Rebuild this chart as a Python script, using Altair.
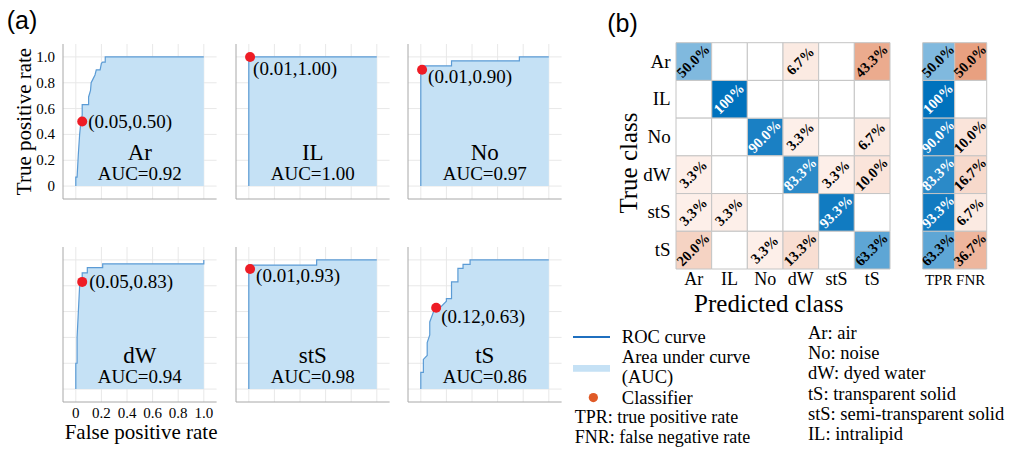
import altair as alt
import pandas as pd

# ---------------- data ----------------
CLASSES = ["Ar", "IL", "No", "dW", "stS", "tS"]
AUC = [0.92, 1.00, 0.97, 0.94, 0.98, 0.86]
CLF_FPR = [0.05, 0.01, 0.01, 0.05, 0.01, 0.12]
CLF_TPR = [0.50, 1.00, 0.90, 0.83, 0.93, 0.63]

AR_FPR = [0, 0, 0.01, 0.02, 0.03, 0.04, 0.05, 0.05, 0.10, 0.10, 0.115, 0.12, 0.135, 0.15, 0.16, 0.19, 0.20, 0.21, 0.23, 0.23, 1.0]
AR_TPR = [0, 0.07, 0.07, 0.25, 0.40, 0.50, 0.55, 0.63, 0.63, 0.69, 0.74, 0.80, 0.83, 0.86, 0.90, 0.90, 0.95, 0.96, 0.96, 1.0, 1.0]
IL_FPR = [0, 0, 1.0]
IL_TPR = [0, 1.0, 1.0]
NO_FPR = [0, 0, 0.24, 0.24, 0.77, 0.77, 1.0]
NO_TPR = [0, 0.93, 0.93, 0.97, 0.97, 1.0, 1.0]
DW_FPR = [0, 0, 0.01, 0.01, 0.02, 0.03, 0.05, 0.05, 0.09, 0.09, 0.21, 0.21, 1.0, 1.0]
DW_TPR = [0, 0.20, 0.20, 0.40, 0.60, 0.80, 0.85, 0.90, 0.90, 0.94, 0.94, 0.97, 0.97, 1.0]
STS_FPR = [0, 0, 0.53, 0.53, 1.0]
STS_TPR = [0, 0.96, 0.96, 1.0, 1.0]
TS_FPR = [0, 0, 0.02, 0.02, 0.05, 0.05, 0.07, 0.07, 0.10, 0.12, 0.16, 0.20, 0.20, 0.24, 0.24, 0.29, 0.29, 0.33, 0.33, 0.385, 0.385, 1.0]
TS_TPR = [0, 0.13, 0.13, 0.23, 0.26, 0.36, 0.42, 0.52, 0.60, 0.64, 0.64, 0.68, 0.70, 0.70, 0.83, 0.83, 0.935, 0.935, 0.966, 0.966, 1.0, 1.0]

GRID_TICKS = [0, 0.2, 0.4, 0.6, 0.8, 1.0]
TICK_LABELS = ["0", "0.2", "0.4", "0.6", "0.8", "1.0"]

CONF = [
    [50.0, 0, 0, 6.7, 0, 43.3],
    [0, 100.0, 0, 0, 0, 0],
    [0, 0, 90.0, 3.3, 0, 6.7],
    [3.3, 0, 0, 83.3, 3.3, 10.0],
    [3.3, 3.3, 0, 0, 93.3, 0],
    [20.0, 0, 3.3, 13.3, 0, 63.3],
]
TPR = [50.0, 100.0, 90.0, 83.3, 93.3, 63.3]
FNR = [50.0, 0, 10.0, 16.7, 6.7, 36.7]
RATE_LABELS = ["TPR", "FNR"]

LEGEND_SYMBOL_TEXT = ["ROC curve", "Area under curve", "(AUC)", "Classifier"]
LEGEND_NOTES = ["TPR: true positive rate", "FNR: false negative rate"]
LEGEND_ABBR = ["Ar:  air", "No: noise", "dW: dyed water", "tS:  transparent solid",
               "stS: semi-transparent solid", "IL: intralipid"]

# ---------------- layout / style ----------------
SERIF = "Liberation Serif"
SANS = "Liberation Sans"
PANEL_X = [63, 236, 408]
PANEL_Y = [199, 402]
PW, PH = 153.6, 155
LABEL_OFF = [(6, 0), (3, 12), (6, 7), (7, 0), (6, 7), (5, 9)]
BLUE_DOMAIN = [0, 100]
BLUE_RANGE = ["#ffffff", "#0072bd"]
ORANGE_DOMAIN = [0, 3, 45, 100]
ORANGE_RANGE = ["#ffffff", "#fdf0ea", "#eaa88a", "#d95319"]

CURVES = [(AR_FPR, AR_TPR), (IL_FPR, IL_TPR), (NO_FPR, NO_TPR),
          (DW_FPR, DW_TPR), (STS_FPR, STS_TPR), (TS_FPR, TS_TPR)]


def panel(k):
    col, row = k % 3, k // 3
    xs = alt.Scale(domain=[-0.1, 1.1], range=[PANEL_X[col], PANEL_X[col] + PW], nice=False, zero=False)
    ys = alt.Scale(domain=[-0.1, 1.1], range=[PANEL_Y[row], PANEL_Y[row] - PH], nice=False, zero=False)

    g = pd.DataFrame([{"x": t, "x2": t, "y": -0.1, "y2": 1.1} for t in GRID_TICKS] +
                     [{"x": -0.1, "x2": 1.1, "y": t, "y2": t} for t in GRID_TICKS])
    grid = alt.Chart(g).mark_rule(color="#e8e8e8", strokeWidth=1).encode(
        x=alt.X("x:Q", scale=xs, axis=None), x2="x2:Q",
        y=alt.Y("y:Q", scale=ys, axis=None), y2="y2:Q")
    a = pd.DataFrame([{"x": -0.1, "x2": -0.1, "y": -0.1, "y2": 1.1},
                      {"x": -0.1, "x2": 1.1, "y": -0.1, "y2": -0.1}])
    axes = alt.Chart(a).mark_rule(color="#a8a8a8", strokeWidth=1).encode(
        x=alt.X("x:Q", scale=xs, axis=None), x2="x2:Q",
        y=alt.Y("y:Q", scale=ys, axis=None), y2="y2:Q")

    fpr, tpr = CURVES[k]
    df = pd.DataFrame({"fpr": fpr, "tpr": tpr, "i": list(range(len(fpr))), "base": 0.0})
    area = alt.Chart(df).mark_area(fill="#c5e1f5", fillOpacity=1, opacity=1).encode(
        x=alt.X("fpr:Q", scale=xs, axis=None), y=alt.Y("tpr:Q", scale=ys, axis=None, stack=None),
        y2="base:Q")
    line = alt.Chart(df).mark_line(color="#5b9bd5", strokeWidth=1.2).encode(
        x=alt.X("fpr:Q", scale=xs, axis=None), y=alt.Y("tpr:Q", scale=ys, axis=None), order="i:Q")

    pt = pd.DataFrame({"fpr": [CLF_FPR[k]], "tpr": [CLF_TPR[k]],
                       "lab": [f"({CLF_FPR[k]:.2f},{CLF_TPR[k]:.2f})"]})
    dot = alt.Chart(pt).mark_circle(size=100, color="#ee1c25", opacity=1).encode(
        x=alt.X("fpr:Q", scale=xs, axis=None), y=alt.Y("tpr:Q", scale=ys, axis=None))
    dx, dy = LABEL_OFF[k]
    dlab = alt.Chart(pt).mark_text(align="left", baseline="middle", dx=dx, dy=dy,
                                   font=SERIF, fontSize=19, color="black").encode(
        x=alt.X("fpr:Q", scale=xs, axis=None), y=alt.Y("tpr:Q", scale=ys, axis=None), text="lab:N")

    nm = pd.DataFrame({"t": [CLASSES[k]], "a": [f"AUC={AUC[k]:.2f}"]})
    name = alt.Chart(nm).mark_text(baseline="middle", font=SERIF, fontSize=23, color="black").encode(
        x=alt.XDatum(0.5, scale=xs, axis=None), y=alt.YDatum(0.26, scale=ys, axis=None), text="t:N")
    auc = alt.Chart(nm).mark_text(baseline="middle", font=SERIF, fontSize=19, color="black").encode(
        x=alt.XDatum(0.5, scale=xs, axis=None), y=alt.YDatum(0.09, scale=ys, axis=None), text="a:N")

    layers = [grid, axes, area, line, dot, dlab, name, auc]
    ticks = pd.DataFrame({"v": GRID_TICKS, "lab": TICK_LABELS})
    if col == 0 and row == 0:
        layers.append(alt.Chart(ticks).mark_text(align="right", baseline="middle", dx=-8,
                                                 font=SERIF, fontSize=15, color="black").encode(
            x=alt.XDatum(-0.1, scale=xs, axis=None), y=alt.Y("v:Q", scale=ys, axis=None), text="lab:N"))
        layers.append(alt.Chart(pd.DataFrame({"t": ["True positive rate"]})).mark_text(
            angle=270, baseline="middle", font=SERIF, fontSize=21, color="black").encode(
            x=alt.XDatum(-0.4, scale=xs, axis=None), y=alt.YDatum(0.5, scale=ys, axis=None), text="t:N"))
        layers.append(alt.Chart(pd.DataFrame({"t": ["(a)"]})).mark_text(
            align="left", baseline="middle", font=SANS, fontSize=25, color="black").encode(
            x=alt.XDatum(-0.54, scale=xs, axis=None), y=alt.YDatum(1.28, scale=ys, axis=None), text="t:N"))
    if col == 0 and row == 1:
        layers.append(alt.Chart(ticks).mark_text(baseline="middle", dy=11,
                                                 font=SERIF, fontSize=15, color="black").encode(
            x=alt.X("v:Q", scale=xs, axis=None), y=alt.YDatum(-0.1, scale=ys, axis=None), text="lab:N"))
        layers.append(alt.Chart(pd.DataFrame({"t": ["False positive rate"]})).mark_text(
            baseline="middle", font=SERIF, fontSize=21, color="black").encode(
            x=alt.XDatum(0.51, scale=xs, axis=None), y=alt.YDatum(-0.34, scale=ys, axis=None), text="t:N"))
    return alt.layer(*layers)


def fmt(v):
    return "100%" if v == 100 else f"{v:.1f}%"


# ---------------- confusion matrix ----------------
mxs = alt.Scale(domain=[0, 6], range=[676, 890], nice=False, zero=False)
mys = alt.Scale(domain=[0, 6], range=[42.7, 269], nice=False, zero=False)
rows = []
for r in range(6):
    for c in range(6):
        v = CONF[r][c]
        rows.append(dict(r=r, r2=r + 1, c=c, c2=c + 1, cx=c + 0.5, cy=r + 0.5, v=v,
                         kind="d" if r == c else "o", lab=fmt(v) if v > 0 else ""))
mdf = pd.DataFrame(rows)


def cell_layers(df, xs, ys):
    enc = dict(x=alt.X("c:Q", scale=xs, axis=None), x2="c2:Q",
               y=alt.Y("r:Q", scale=ys, axis=None), y2="r2:Q")
    d = alt.Chart(df).transform_filter("datum.kind == 'd'").mark_rect(
        stroke="#c4c4c4", strokeWidth=1).encode(
        color=alt.Color("v:Q", scale=alt.Scale(type="linear", domain=BLUE_DOMAIN, range=BLUE_RANGE,
                                               interpolate="rgb", zero=False, nice=False), legend=None), **enc)
    o = alt.Chart(df).transform_filter("datum.kind == 'o'").mark_rect(
        stroke="#c4c4c4", strokeWidth=1).encode(
        color=alt.Color("v:Q", scale=alt.Scale(type="linear", domain=ORANGE_DOMAIN, range=ORANGE_RANGE,
                                               interpolate="rgb", zero=False, nice=False), legend=None), **enc)
    t = alt.Chart(df).transform_filter("datum.v > 0").mark_text(
        angle=315, align="center", baseline="middle", font=SERIF, fontSize=14.5, fontWeight="bold").encode(
        x=alt.X("cx:Q", scale=xs, axis=None), y=alt.Y("cy:Q", scale=ys, axis=None), text="lab:N",
        color=alt.condition("datum.v > 75", alt.value("white"), alt.value("black")))
    return d, o, t


md, mo, mt = cell_layers(mdf, mxs, mys)

cls_df = pd.DataFrame({"cls": CLASSES, "i": list(range(6))})
row_labels = alt.Chart(cls_df).transform_calculate(cy="datum.i + 0.5").mark_text(
    align="right", baseline="middle", font=SERIF, fontSize=19, color="black").encode(
    x=alt.XDatum(-0.15, scale=mxs, axis=None), y=alt.Y("cy:Q", scale=mys, axis=None), text="cls:N")
col_labels = alt.Chart(cls_df).transform_calculate(cx="datum.i + 0.5").mark_text(
    baseline="middle", font=SERIF, fontSize=18, color="black").encode(
    x=alt.X("cx:Q", scale=mxs, axis=None), y=alt.YDatum(6.3, scale=mys, axis=None), text="cls:N")
pred_title = alt.Chart(pd.DataFrame({"t": ["Predicted class"]})).mark_text(
    baseline="middle", font=SERIF, fontSize=25, color="black").encode(
    x=alt.XDatum(2.6, scale=mxs, axis=None), y=alt.YDatum(6.93, scale=mys, axis=None), text="t:N")
true_title = alt.Chart(pd.DataFrame({"t": ["True class"]})).mark_text(
    angle=270, baseline="middle", font=SERIF, fontSize=25, color="black").encode(
    x=alt.XDatum(-1.32, scale=mxs, axis=None), y=alt.YDatum(3.19, scale=mys, axis=None), text="t:N")
b_label = alt.Chart(pd.DataFrame({"t": ["(b)"]})).mark_text(
    align="left", baseline="middle", font=SANS, fontSize=25, color="black").encode(
    x=alt.XDatum(-1.93, scale=mxs, axis=None), y=alt.YDatum(-0.5, scale=mys, axis=None), text="t:N")

matrix = alt.layer(md, mo, mt, row_labels, col_labels, pred_title, true_title, b_label).resolve_scale(
    color="independent")

# ---------------- TPR / FNR ----------------
sxs = alt.Scale(domain=[0, 2], range=[922.7, 986.7], nice=False, zero=False)
srows = []
for r in range(6):
    for c, v in enumerate([TPR[r], FNR[r]]):
        srows.append(dict(r=r, r2=r + 1, c=c, c2=c + 1, cx=c + 0.5, cy=r + 0.5, v=v,
                          kind="d" if c == 0 else "o", lab=fmt(v) if v > 0 else ""))
sdf = pd.DataFrame(srows)
sd, so, st = cell_layers(sdf, sxs, mys)
rate_labels = alt.Chart(pd.DataFrame({"t": RATE_LABELS, "i": [0, 1]})).transform_calculate(
    cx="datum.i + 0.5").mark_text(baseline="middle", font=SERIF, fontSize=15, color="black").encode(
    x=alt.X("cx:Q", scale=sxs, axis=None), y=alt.YDatum(6.3, scale=mys, axis=None), text="t:N")
side = alt.layer(sd, so, st, rate_labels).resolve_scale(color="independent")

# ---------------- legend ----------------
lxs = alt.Scale(domain=[0, 1], range=[573, 610], nice=False, zero=False)
lys = alt.Scale(domain=[0, 5], range=[337, 438], nice=False, zero=False)
one = pd.DataFrame({"k": [0]})
leg_line = alt.Chart(one).mark_rule(color="#1f6fbf", strokeWidth=2).encode(
    x=alt.XDatum(0, scale=lxs, axis=None), x2=alt.datum(1), y=alt.YDatum(0, scale=lys, axis=None))
leg_rect = alt.Chart(one).mark_rect(color="#c5e1f5").encode(
    x=alt.XDatum(0, scale=lxs, axis=None), x2=alt.datum(1),
    y=alt.YDatum(1.38, scale=lys, axis=None), y2=alt.datum(1.72))
leg_dot = alt.Chart(one).mark_circle(size=85, color="#e05a27", opacity=1).encode(
    x=alt.XDatum(0.55, scale=lxs, axis=None), y=alt.YDatum(3, scale=lys, axis=None))
sym_txt = alt.Chart(pd.DataFrame({"t": LEGEND_SYMBOL_TEXT, "row": [0, 1, 2, 3]})).mark_text(
    align="left", baseline="middle", font=SERIF, fontSize=18.5, color="black").encode(
    x=alt.XDatum(1.32, scale=lxs, axis=None), y=alt.Y("row:Q", scale=lys, axis=None), text="t:N")
note_txt = alt.Chart(pd.DataFrame({"t": LEGEND_NOTES, "row": [4, 5]})).mark_text(
    align="left", baseline="middle", font=SERIF, fontSize=18, color="black").encode(
    x=alt.XDatum(0.05, scale=lxs, axis=None), y=alt.Y("row:Q", scale=lys, axis=None), text="t:N")
abbr_txt = alt.Chart(pd.DataFrame({"t": LEGEND_ABBR, "row": list(range(6))})).mark_text(
    align="left", baseline="middle", dy=-4, font=SERIF, fontSize=18.5, color="black").encode(
    x=alt.XDatum(6.35, scale=lxs, axis=None), y=alt.Y("row:Q", scale=lys, axis=None), text="t:N")
legend = alt.layer(leg_line, leg_rect, leg_dot, sym_txt, note_txt, abbr_txt)

chart = alt.layer(*[panel(k) for k in range(6)], matrix, side, legend).resolve_scale(
    x="independent", y="independent", color="independent"
).properties(
    width=1021, height=449, padding=0, autosize=alt.AutoSizeParams(type="none")
).configure_view(stroke=None)

chart.save("out.html", embed_options={"renderer": "svg", "actions": False})
